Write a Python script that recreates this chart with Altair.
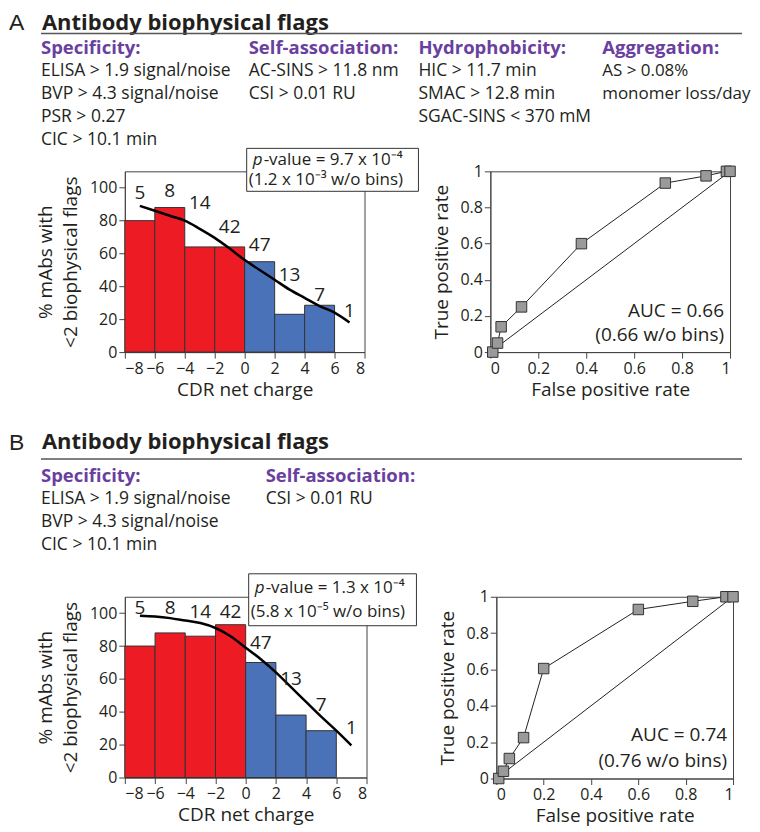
import altair as alt
import pandas as pd

# ---------------- data ----------------
bin_lo = [-8, -6, -4, -2, 0, 2, 4]
bin_hi = [-6, -4, -2, 0, 2, 4, 6]
bin_side = ["neg", "neg", "neg", "neg", "pos", "pos", "pos"]
histA_pct = [80, 88, 64, 64, 55, 23, 28.5]
histB_pct = [80, 88, 86, 93, 70, 38, 28.5]

count_x = [-7, -5, -3, -1, 1, 3, 5, 7]
counts = ["5", "8", "14", "42", "47", "13", "7", "1"]
labelA_y = [97, 98, 91, 76, 65, 47, 35, 25]
labelB_y = [103, 103, 101, 101, 82, 60, 44, 30]

curve_x = [-7, -6, -5, -4, -3, -2, -1, 0, 1, 2, 3, 4, 5, 6, 7]
curveA_y = [89, 86, 83, 80, 75, 69.5, 63, 56, 50, 44, 38, 33, 28, 24, 18]
curveB_y = [98.5, 98, 97, 95.5, 94, 91, 86, 79, 72, 64, 55, 46, 37, 28.5, 19.5]

rocA_fpr = [0.01, 0.03, 0.045, 0.13, 0.38, 0.73, 0.90, 0.985, 1.0]
rocA_tpr = [0.0, 0.05, 0.14, 0.25, 0.60, 0.935, 0.975, 1.0, 1.0]
rocB_fpr = [0.01, 0.03, 0.055, 0.115, 0.20, 0.60, 0.83, 0.97, 1.0]
rocB_tpr = [0.0, 0.04, 0.11, 0.225, 0.605, 0.93, 0.975, 1.0, 1.0]
diag = [0, 1]

hist_xticks = [-8, -6, -4, -2, 0, 2, 4, 6, 8]
hist_yticks = [0, 20, 40, 60, 80, 100]
roc_ticks = [0, 0.2, 0.4, 0.6, 0.8, 1]

title_text = "Antibody biophysical flags"
groupsA = ["Specificity:", "Self-association:", "Hydrophobicity:", "Aggregation:"]
linesA = [
    ["ELISA > 1.9 signal/noise", "BVP > 4.3 signal/noise", "PSR > 0.27", "CIC > 10.1 min"],
    ["AC-SINS > 11.8 nm", "CSI > 0.01 RU"],
    ["HIC > 11.7 min", "SMAC > 12.8 min", "SGAC-SINS < 370 mM"],
    ["AS > 0.08%", "monomer loss/day"],
]
groupsB = ["Specificity:", "Self-association:"]
linesB = [
    ["ELISA > 1.9 signal/noise", "BVP > 4.3 signal/noise", "CIC > 10.1 min"],
    ["CSI > 0.01 RU"],
]
pvalA = ["-value = 9.7 x 10\u207b\u2074", "(1.2 x 10\u207b\u00b3 w/o bins)"]
pvalB = ["-value = 1.3 x 10\u207b\u2074", "(5.8 x 10\u207b\u2075 w/o bins)"]
aucA = ["AUC = 0.66", "(0.66 w/o bins)"]
aucB = ["AUC = 0.74", "(0.76 w/o bins)"]

# ---------------- style ----------------
FONT = "Open Sans"
TXT = "#231f20"
AXC = "#444444"
RED = "#ed1c24"
BLUE = "#4a72b8"
PURPLE = "#6a3fa0"


def one():
    return pd.DataFrame({"a": [0]})


def txt(s, x, y, size=17, weight="normal", color=TXT, align="left", style="normal", font=FONT):
    return alt.Chart(one()).mark_text(
        text=s, fontSize=size, fontWeight=weight, color=color, align=align,
        baseline="middle", font=font, fontStyle=style,
    ).encode(x=alt.value(x), y=alt.value(y))


def header_layers(letter, groups, lines, col_x, col_size, ys, ox, oy):
    # ys: (letter_y, title_y, rule_y, heading_y, first_line_y) in page pixels
    ly, ty, ry, hy, l0 = ys
    L = []
    L.append(txt(letter, 8 - ox, ly - oy, size=23, font="Liberation Sans"))
    L.append(txt(title_text, 41 - ox, ty - oy, size=22, weight="bold"))
    L.append(alt.Chart(one()).mark_rule(color="#555", strokeWidth=1.5).encode(
        x=alt.value(40 - ox), x2=alt.value(742 - ox), y=alt.value(ry - oy)))
    for g, ls, cx, cs in zip(groups, lines, col_x, col_size):
        L.append(txt(g, cx - ox, hy - oy, size=18.5, weight="bold", color=PURPLE))
        for i, s in enumerate(ls):
            L.append(txt(s, cx - ox, l0 + 23 * i - oy, size=cs))
    return L


def hist_panel(pct, label_y, curve_y, pv, box, width, height, header):
    xs = alt.Scale(domain=[-8, 8], nice=False, zero=False)
    ys = alt.Scale(domain=[0, 110], nice=False)
    xax = alt.Axis(values=hist_xticks, title="CDR net charge", labelOverlap=False)
    yax = alt.Axis(values=hist_yticks, title=["% mAbs with", "<2 biophysical flags"],
                   labelOverlap=False, titlePadding=9)
    bdf = pd.DataFrame({"lo": bin_lo, "hi": bin_hi, "pct": pct, "side": bin_side, "zero": [0] * len(pct)})
    bars = alt.Chart(bdf).mark_rect(stroke="#333", strokeWidth=1, opacity=1).encode(
        x=alt.X("lo:Q", scale=xs, axis=xax), x2="hi:Q",
        y=alt.Y("pct:Q", scale=ys, axis=yax), y2="zero:Q",
        color=alt.Color("side:N", scale=alt.Scale(domain=["neg", "pos"], range=[RED, BLUE]), legend=None),
    )
    curve = alt.Chart(pd.DataFrame({"x": curve_x, "y": curve_y})).mark_line(
        color="black", strokeWidth=2.5, interpolate="monotone"
    ).encode(x=alt.X("x:Q", scale=xs, axis=xax), y=alt.Y("y:Q", scale=ys, axis=yax))
    labels = alt.Chart(pd.DataFrame({"x": count_x, "y": label_y, "t": counts})).mark_text(
        fontSize=19, font=FONT, color=TXT
    ).encode(x=alt.X("x:Q", scale=xs, axis=xax), y=alt.Y("y:Q", scale=ys, axis=yax), text="t:N")
    bx0, bx1, by0, by1 = box
    rect = alt.Chart(one()).mark_rect(fill="white", stroke="#333", strokeWidth=1).encode(
        x=alt.value(bx0), x2=alt.value(bx1), y=alt.value(by0), y2=alt.value(by1))
    t1y = by0 + (by1 - by0) * 0.28
    t2y = by0 + (by1 - by0) * 0.74
    p = txt("p", bx0 + 6, t1y, size=17, style="italic")
    p2 = txt(pv[0], bx0 + 17, t1y, size=17)
    p3 = txt(pv[1], bx0 + 2, t2y, size=17)
    return alt.layer(bars, curve, labels, rect, p, p2, p3, *header).properties(width=width, height=height)


def roc_panel(fpr, tpr, auc, auc_y, width, height):
    sc = alt.Scale(domain=[0, 1], nice=False)
    xax = alt.Axis(values=roc_ticks, format="~g", title="False positive rate", labelOverlap=False)
    yax = alt.Axis(values=roc_ticks, format="~g", title="True positive rate", labelOverlap=False,
                   titlePadding=8)
    d = alt.Chart(pd.DataFrame({"x": diag, "y": diag})).mark_line(color="#222", strokeWidth=1).encode(
        x=alt.X("x:Q", scale=sc, axis=xax), y=alt.Y("y:Q", scale=sc, axis=yax))
    base = alt.Chart(pd.DataFrame({"x": fpr, "y": tpr}))
    ln = base.mark_line(color="#222", strokeWidth=1).encode(
        x=alt.X("x:Q", scale=sc, axis=xax), y=alt.Y("y:Q", scale=sc, axis=yax))
    pts = base.mark_point(shape="square", size=110, filled=True, fill="#9a9a9a", stroke="#333",
                          strokeWidth=1, opacity=1).encode(
        x=alt.X("x:Q", scale=sc, axis=xax), y=alt.Y("y:Q", scale=sc, axis=yax))
    t = []
    for s, yv in zip(auc, auc_y):
        t.append(alt.Chart(one()).mark_text(text=s, fontSize=19, font=FONT, color=TXT, align="right",
                                            baseline="middle").encode(
            x=alt.XDatum(0.975, scale=sc, axis=xax), y=alt.YDatum(yv, scale=sc, axis=yax)))
    return alt.layer(d, ln, pts, *t).properties(width=width, height=height)


OA = (124, 168)
OB = (124, 594)
hdrA = header_layers("A", groupsA, linesA, [40, 248, 418, 602], [17.5, 17.5, 17.5, 17],
                     (19.5, 19, 30, 45, 67.5), *OA)
hdrB = header_layers("B", groupsB, linesB, [40, 265], [17.5, 17.5],
                     (440, 439, 456, 473, 496), *OB)

histA = hist_panel(histA_pct, labelA_y, curveA_y, pvalA, (122, 294, -23, 20), 240, 181, hdrA)
histB = hist_panel(histB_pct, labelB_y, curveB_y, pvalB, (124, 292, -23, 29), 242, 181, hdrB)
rocA = roc_panel(rocA_fpr, rocA_tpr, aucA, [0.226, 0.094], 240, 181)
rocB = roc_panel(rocB_fpr, rocB_tpr, aucB, [0.24, 0.097], 237, 182)

rowA = alt.hconcat(histA, rocA, spacing=126, bounds="flush")
rowB = alt.hconcat(histB, rocB, spacing=130, bounds="flush")

chart = alt.vconcat(
    rowA, rowB, spacing=426, bounds="flush",
    padding={"top": 2, "left": 0, "right": 0, "bottom": 0},
).configure(
    background="white"
).configure_view(
    stroke=AXC, strokeWidth=1
).configure_axis(
    labelFont=FONT, labelFontSize=16, labelColor=TXT, titleFont=FONT, titleFontSize=19,
    titleFontWeight="normal", titleColor=TXT, domainColor=AXC, tickColor=AXC, tickSize=6,
    grid=False, labelPadding=2, titleLineHeight=25,
)

chart.save("out.html", embed_options={"renderer": "svg", "actions": False})
